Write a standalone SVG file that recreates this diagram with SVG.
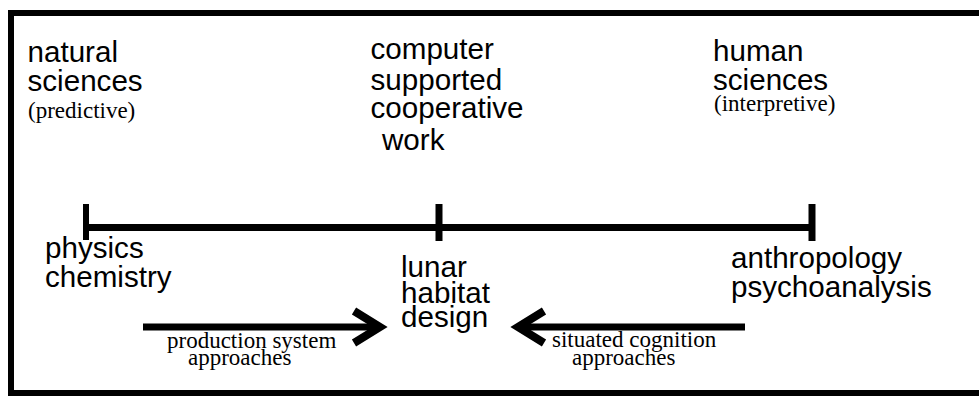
<svg xmlns="http://www.w3.org/2000/svg" width="979" height="397" viewBox="0 0 979 397">
<style>
.s{font-family:"Liberation Sans",Arial,sans-serif;font-size:29.6px;fill:#000}
.r{font-family:"Liberation Serif","Times New Roman",serif;font-size:23px;fill:#000}
.ln{stroke:#000;fill:none}
</style>
<rect x="0" y="0" width="979" height="397" fill="#fff"/>
<path class="ln" d="M979,13 H11 V393 H979" stroke-width="6"/>
<g id="natural-sciences">
<text class="s" x="27.5" y="61.5">natural</text>
<text class="s" x="27.5" y="90.5">sciences</text>
<text class="r" x="28" y="118">(predictive)</text>
</g>
<g id="cscw">
<text class="s" x="370.5" y="58.5">computer</text>
<text class="s" x="370.5" y="90">supported</text>
<text class="s" x="370.5" y="118">cooperative</text>
<text class="s" x="382" y="150">work</text>
</g>
<g id="human-sciences">
<text class="s" x="713" y="61">human</text>
<text class="s" x="713" y="90">sciences</text>
<text class="r" x="714" y="111">(interpretive)</text>
</g>
<g id="physics-chemistry">
<text class="s" x="45" y="258">physics</text>
<text class="s" x="45" y="286.5">chemistry</text>
</g>
<g id="lunar-habitat">
<text class="s" x="401" y="277">lunar</text>
<text class="s" x="401" y="303">habitat</text>
<text class="s" x="401" y="327">design</text>
</g>
<g id="anthropology">
<text class="s" x="731" y="268">anthropology</text>
<text class="s" x="731" y="296.5">psychoanalysis</text>
</g>
<g id="connectors">
<path class="ln" d="M86,227.5 H812" stroke-width="7"/>
<path class="ln" d="M86,204 V240" stroke-width="6"/>
<path class="ln" d="M439,204 V241" stroke-width="7"/>
<path class="ln" d="M812,204 V241" stroke-width="7"/>
<path class="ln" d="M143,327 H378" stroke-width="7"/>
<path class="ln" d="M354,311 L380,327 L354,343" stroke-width="8"/>
<path class="ln" d="M745,327 H520" stroke-width="7"/>
<path class="ln" d="M544,311 L518,327 L544,343" stroke-width="8"/>
<text class="r" x="167" y="348">production system</text>
<text class="r" x="188" y="365">approaches</text>
<text class="r" x="552" y="347">situated cognition</text>
<text class="r" x="572" y="365">approaches</text>
</g>
</svg>
